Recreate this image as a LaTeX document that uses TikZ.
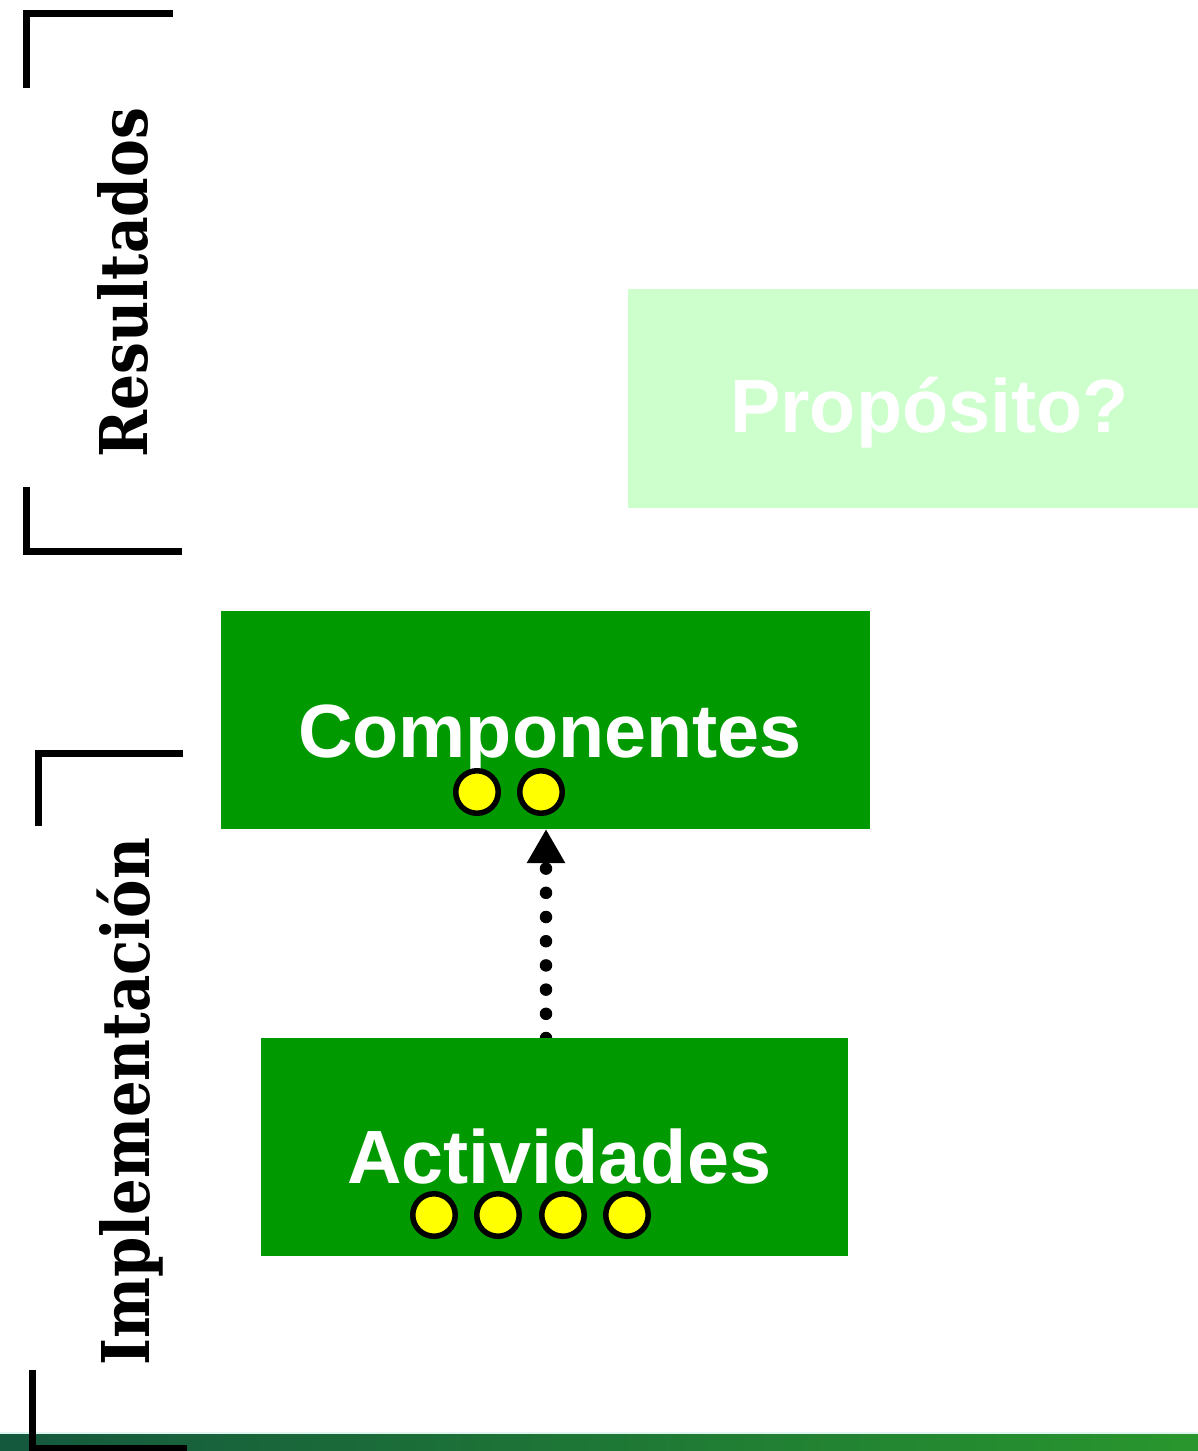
\documentclass[tikz,border=0pt]{standalone}
\usepackage{fontspec}
\usepackage{graphicx}
\newfontfamily\boxfont{Liberation Sans}
\newfontfamily\lblfont{DejaVu Serif}
\usetikzlibrary{arrows.meta}
\definecolor{boxgreen}{RGB}{0,153,0}
\definecolor{palegreen}{RGB}{204,255,204}
\definecolor{dotyellow}{RGB}{255,255,0}
\definecolor{bandA}{RGB}{20,88,62}
\definecolor{bandB}{RGB}{28,125,78}
\definecolor{bandC}{RGB}{40,150,45}
\definecolor{bandline}{RGB}{225,245,240}
\newcommand{\capfit}[3]{\resizebox{#1}{#2}{\smash{#3}\rule{0pt}{\fontcharht\font`I}}}
\pgfdeclarelayer{bg}
\pgfsetlayers{bg,main}
\begin{document}
\begin{tikzpicture}[x=1pt,y=-1pt,
  gbox/.style={fill=boxgreen, draw=none, inner sep=0pt, outer sep=0pt},
  pbox/.style={fill=palegreen, draw=none, inner sep=0pt, outer sep=0pt},
  btext/.style={text=white, font=\boxfont\bfseries\fontsize{75.5}{80}\selectfont, inner sep=0pt, anchor=base west},
  yc/.style={circle, fill=dotyellow, draw=black, line width=5.5pt, minimum size=42.5pt, inner sep=0pt},
  brk/.style={line width=7pt, draw=black, line join=miter},
  vlabel/.style={rotate=90, anchor=base west, inner sep=0pt, font=\lblfont\bfseries\fontsize{60}{70}\selectfont},
  dotarrow/.style={line width=12.5pt, line cap=round, dash pattern=on 0pt off 24.2pt, -{Triangle[width=36pt,length=34pt]}}
]
\useasboundingbox (0,0) rectangle (1198,1451);

% boxes
\node[pbox, minimum width=570pt, minimum height=219pt] (prop) at (913,398.5) {};
\node[gbox, minimum width=649pt, minimum height=218pt] (comp) at (545.5,720) {};
\node[gbox, minimum width=587pt, minimum height=218pt] (act) at (554.5,1147) {};

% texts
\node[btext] (propt) at (730,432) {Propósito?};
\node[btext] (compt) at (298,757) {Componentes};
\node[btext] (actt) at (347,1183) {Actividades};

% yellow markers
\node[yc] (c1) at (477,792) {};
\node[yc] (c2) at (541,792) {};
\node[yc] (a1) at (434,1215) {};
\node[yc] (a2) at (498,1215) {};
\node[yc] (a3) at (563,1215) {};
\node[yc] (a4) at (627,1215) {};

% connector
\begin{pgfonlayer}{bg}
\draw[dotarrow] ([xshift=-8.5pt]act.north) -- ([xshift=0.5pt]comp.south);
\end{pgfonlayer}

% vertical labels
\node[vlabel] (res) at (147,458) {\capfit{350pt}{48pt}{Resultados}};
\node[vlabel] (imp) at (149,1366) {\capfit{528pt}{48pt}{Implementación}};

% bottom band
\fill[bandline] (0,1432) rectangle (1198,1434);
\shade[left color=bandA, middle color=bandB, right color=bandC] (0,1434) rectangle (1198,1451);

% brackets
\draw[brk] (173,13) -- (26,13) -- (26,88);
\draw[brk] (26,487) -- (26,551) -- (182,551);
\draw[brk] (183,753) -- (38,753) -- (38,826);
\draw[brk] (32,1370) -- (32,1448) -- (187,1448);
\end{tikzpicture}
\end{document}
